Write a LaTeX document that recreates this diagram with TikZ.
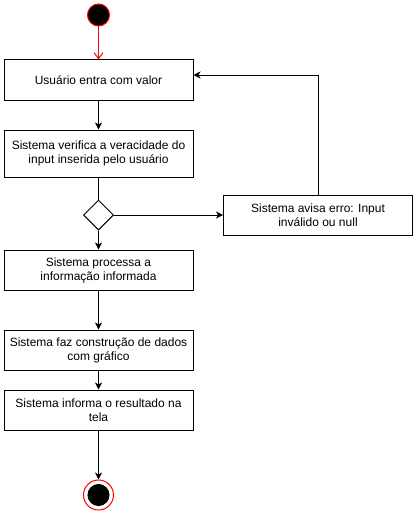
\documentclass[tikz,border=0pt]{standalone}
\usepackage{fontspec}
\setmainfont{Liberation Sans}
\usetikzlibrary{arrows.meta,shapes.geometric}
\begin{document}
\begin{tikzpicture}[x=1pt,y=-1pt,
  box/.style={draw,line width=1pt,fill=white,minimum width=189pt,minimum height=40pt,align=center,inner sep=0pt,font=\fontsize{12}{14}\selectfont},
  arr/.style={line width=1pt,-{Stealth[length=7pt,width=7pt,inset=2pt]}},
  ln/.style={line width=1pt}]
\useasboundingbox (0,0) rectangle (414,511);
\node[circle,draw=red,fill=black,line width=1pt,minimum size=22pt,inner sep=0pt] (start) at (98.5,15) {};
\node[box] (b1) at (98.5,80) {Usuário entra com valor};
\node[box,minimum height=47pt] (b2) at (98.5,153.5) {Sistema verifica a veracidade do\\input inserida pelo usuário};
\node[diamond,draw,line width=1pt,minimum width=30pt,minimum height=30pt,inner sep=0pt,aspect=1] (d) at (98.5,215) {};
\node[box] (err) at (318,215) {Sistema avisa erro: Input\\inválido ou null};
\node[box] (b3) at (98.5,270) {Sistema processa a\\informação informada};
\node[box] (b4) at (98.5,350) {Sistema faz construção de dados\\com gráfico};
\node[box] (b5) at (98.5,410) {Sistema informa o resultado na\\tela};
\node[circle,draw=red,fill=white,line width=1pt,minimum size=30pt,inner sep=0pt] (end) at (98.5,495) {};
\node[circle,draw=black,fill=black,line width=1pt,minimum size=21pt,inner sep=0pt] (endin) at (98.5,495) {};
\coordinate (c1) at (318,75);
\draw[line width=1pt,red,-{Straight Barb[length=6pt,width=9pt]}] (start) -- (b1);
\draw[arr] (b1) -- (b2);
\draw[ln] (b2) -- (d);
\draw[arr] (d) -- (err);
\draw[arr] (err.north) -- (c1) -- (b1.east |- c1);
\draw[arr] (d) -- (b3);
\draw[arr] (b3) -- (b4);
\draw[arr] (b4) -- (b5);
\draw[arr] (b5) -- (end);
\end{tikzpicture}
\end{document}
